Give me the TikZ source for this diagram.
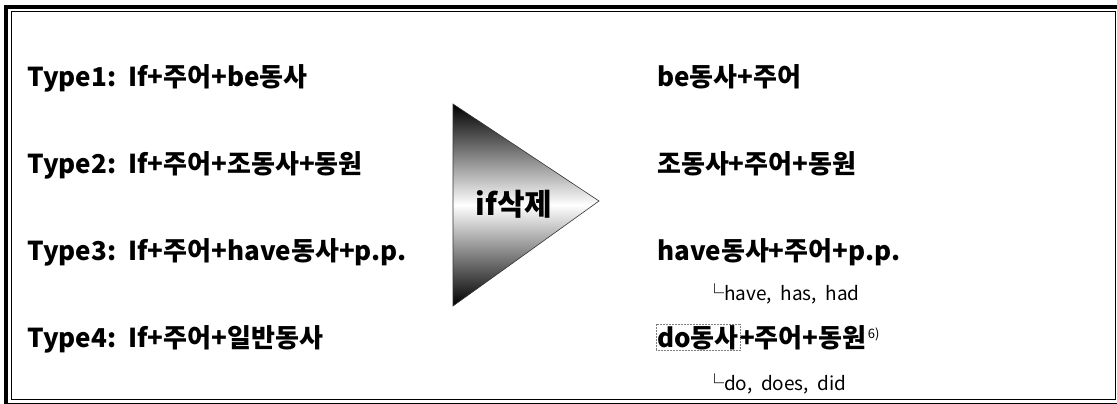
\documentclass[tikz,border=0pt]{standalone}
\usepackage{fontspec}
\setmainfont{Noto Sans CJK KR}
\begin{document}
\begin{tikzpicture}[x=1pt,y=-1pt,
  big/.style={anchor=base west,inner sep=0pt,font=\fontsize{26}{30}\selectfont\bfseries},
  small/.style={anchor=base west,inner sep=0pt,font=\fontsize{19}{22}\selectfont},
  note/.style={anchor=base west,inner sep=0pt,font=\fontsize{13}{15}\selectfont}]
\useasboundingbox (0,0) rectangle (1117,404);
% frame
\draw[line width=4pt] (6,7) rectangle (1120,404.5);
\draw[line width=1.2pt] (11.5,11.5) rectangle (1115.5,399.5);
% left column
\node[big] (l1) at (27,87)  {Type1:\ \ If+주어+be동사};
\node[big] (l2) at (27,173) {Type2:\ \ If+주어+조동사+동원};
\node[big] (l3) at (27,260) {Type3:\ \ If+주어+have동사+p.p.};
\node[big] (l4) at (27,347) {Type4:\ \ If+주어+일반동사};
% triangle
\coordinate (ta) at (453,104);
\coordinate (tb) at (453,306);
\coordinate (tc) at (599,201);
\shade[top color=black,bottom color=black,middle color=white,draw=black!80,line width=0.6pt]
  (ta) -- (tc) -- (tb) -- cycle;
\node[anchor=center,inner sep=0pt,font=\fontsize{30}{34}\selectfont\bfseries] (tri) at (514,204) {if삭제};
% right column
\node[big] (r1) at (657,87)  {be동사+주어};
\node[big] (r2) at (657,173) {조동사+주어+동원};
\node[big] (r3) at (657,260) {have동사+주어+p.p.};
\node[small] (s3) at (705,300) {└have,\ \ has,\ \ had};
\node[big] (r4a) at (657,347) {do동사};
\node[big,anchor=base west] (r4b) at (r4a.base east) {+주어+동원};
\node[note,anchor=base west] (fn) at ([xshift=1pt,yshift=9pt]r4b.base east) {6)};
\draw[densely dotted,gray,line width=0.5pt] ([xshift=-1pt,yshift=1pt]r4a.north west) rectangle ([xshift=1pt,yshift=-1pt]r4a.south east);
\node[small] (s4) at (705,390) {└do,\ \ does,\ \ did};
\end{tikzpicture}
\end{document}
